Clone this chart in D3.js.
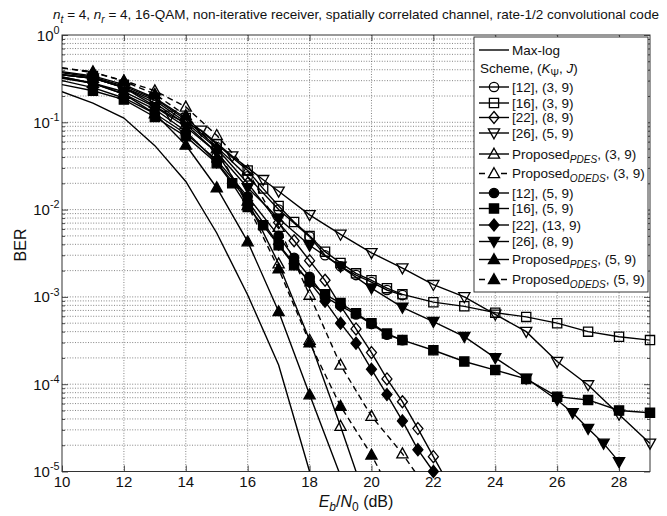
<!DOCTYPE html>
<html><head><meta charset="utf-8">
<script src="https://cdn.jsdelivr.net/npm/d3@7"></script>
<style>
body{margin:0;background:#fff}
text{font-family:"Liberation Sans",Arial,Helvetica,sans-serif;fill:#111}
</style>
</head><body>
<svg id="chart" width="667" height="516"></svg>
<script>
// ---------- data ----------
const xTicks = [10,12,14,16,18,20,22,24,26,28];
const yExponents = [0,-1,-2,-3,-4,-5];

const maxLogX = [10,11,12,13,14,15,16,17,18];
const maxLogY = [2.24e-1,1.66e-1,1.12e-1,5.4e-2,2.1e-2,5.4e-3,1.05e-3,1.66e-4,1.0e-5];

const ref12_39X = [10,11,12,13,14,15,16,17,18,18.5,19,19.5,20,20.5,21];
const ref12_39Y = [3.7e-1,3.3e-1,2.6e-1,1.86e-1,1.07e-1,5.2e-2,2.4e-2,1.0e-2,4.9e-3,3.0e-3,2.24e-3,1.78e-3,1.48e-3,1.2e-3,1.05e-3];

const ref16_39X = [10,11,12,13,14,15,16,16.5,17,17.5,18,18.5,19,19.5,20,20.5,21,22,23,24,25,26,27,28,29];
const ref16_39Y = [3.8e-1,3.4e-1,2.7e-1,1.9e-1,1.12e-1,5.6e-2,2.8e-2,1.74e-2,1.1e-2,7.2e-3,5.0e-3,3.3e-3,2.45e-3,1.86e-3,1.55e-3,1.26e-3,1.07e-3,8.7e-4,7.8e-4,6.6e-4,5.9e-4,5.0e-4,4.0e-4,3.5e-4,3.2e-4];

const ref22_89X = [10,11,12,13,14,15,16,17,17.5,18,18.5,19,19.5,20,20.5,21,21.5,22,22.5];
const ref22_89Y = [3.5e-1,3.2e-1,2.5e-1,1.78e-1,1.0e-1,5.0e-2,2.0e-2,7.1e-3,4.4e-3,2.6e-3,1.55e-3,7.9e-4,4.3e-4,2.3e-4,1.15e-4,6.3e-5,3.1e-5,1.48e-5,7.1e-6];

const ref26_59X = [10,11,12,13.5,14.5,15.5,16.5,17,18,19,20,21,22,23,24,25,26,27,28,29];
const ref26_59Y = [3.5e-1,3.2e-1,2.5e-1,1.2e-1,8.1e-2,4.1e-2,2.2e-2,1.62e-2,8.7e-3,5.2e-3,3.2e-3,2.14e-3,1.38e-3,1.0e-3,6.3e-4,4.0e-4,1.82e-4,9.8e-5,4.5e-5,2.1e-5];

const pdes39X = [10,11,12,13,14,15,16,17,18,19,19.6];
const pdes39Y = [3.5e-1,3.2e-1,2.5e-1,1.66e-1,9.5e-2,4.5e-2,1.26e-2,2.4e-3,3.2e-4,3.3e-5,7.9e-6];

const odeds39X = [10,11,12,13,14,15,16,17,18,19,20,21,21.5];
const odeds39Y = [4.2e-1,3.7e-1,3.0e-1,2.3e-1,1.5e-1,7.1e-2,2.8e-2,6.3e-3,1.05e-3,1.66e-4,4.3e-5,1.6e-5,8.9e-6];

const ref12_59X = [10,11,12,13,14,15,16,17,17.5,18,18.5,19,19.5,20,20.5,21];
const ref12_59Y = [3.0e-1,2.5e-1,1.9e-1,1.26e-1,7.4e-2,3.7e-2,1.41e-2,5.0e-3,2.8e-3,1.7e-3,1.0e-3,7.9e-4,6.3e-4,4.9e-4,3.7e-4,3.2e-4];

const ref16_59X = [10,11,12,13,14,15,15.5,16,16.5,17,17.5,18,18.5,19,19.5,20,20.5,21,22,23,24,25,26,27,28,29];
const ref16_59Y = [2.7e-1,2.3e-1,1.82e-1,1.15e-1,6.9e-2,3.4e-2,2.0e-2,1.07e-2,6.6e-3,3.9e-3,2.3e-3,1.5e-3,1.07e-3,8.5e-4,6.5e-4,5.0e-4,3.8e-4,3.2e-4,2.45e-4,1.82e-4,1.45e-4,1.15e-4,7.2e-5,6.6e-5,5.0e-5,4.7e-5];

const ref22_139X = [10,11,12,13,14,15,16,17,17.5,18,18.5,19,19.5,20,20.5,21,21.5,22];
const ref22_139Y = [3.2e-1,2.8e-1,2.1e-1,1.41e-1,7.9e-2,3.5e-2,1.26e-2,4.0e-3,2.4e-3,1.48e-3,8.9e-4,5.0e-4,2.95e-4,1.48e-4,7.6e-5,3.8e-5,1.78e-5,1.0e-5];

const ref26_89X = [10,11,12,13,14,15,16,17,18,19,20,21,22,23,24,25,26,26.5,27,27.5,28];
const ref26_89Y = [3.3e-1,2.8e-1,2.24e-1,1.5e-1,8.9e-2,4.5e-2,1.78e-2,7.9e-3,3.9e-3,2.24e-3,1.26e-3,7.6e-4,5.2e-4,3.5e-4,2.0e-4,1.17e-4,6.6e-5,4.7e-5,3.1e-5,2.1e-5,1.29e-5];

const pdes59X = [10,11,12,13,14,15,16,17,18,19];
const pdes59Y = [3.3e-1,2.8e-1,2.1e-1,1.26e-1,5.5e-2,1.78e-2,4.3e-3,6.8e-4,7.6e-5,8.9e-6];

const odeds59X = [10,11,12,13,14,15,16,17,18,19,20,20.5];
const odeds59Y = [4.2e-1,3.8e-1,2.95e-1,2.1e-1,1.2e-1,5.0e-2,1.12e-2,2.1e-3,3.0e-4,5.6e-5,1.55e-5,7.1e-6];

// ---------- series table ----------
const series = [
  {xs:maxLogX, ys:maxLogY, marker:null, filled:false, dashed:false, label:[{t:"Max-log"}]},
  {xs:ref12_39X, ys:ref12_39Y, marker:"circle", filled:false, dashed:false, label:[{t:"[12], (3, 9)"}]},
  {xs:ref16_39X, ys:ref16_39Y, marker:"square", filled:false, dashed:false, label:[{t:"[16], (3, 9)"}]},
  {xs:ref22_89X, ys:ref22_89Y, marker:"diamond", filled:false, dashed:false, label:[{t:"[22], (8, 9)"}]},
  {xs:ref26_59X, ys:ref26_59Y, marker:"triDown", filled:false, dashed:false, label:[{t:"[26], (5, 9)"}]},
  {xs:pdes39X, ys:pdes39Y, marker:"triUp", filled:false, dashed:false, label:[{t:"Proposed"},{t:"PDES",sub:1,i:1},{t:", (3, 9)"}]},
  {xs:odeds39X, ys:odeds39Y, marker:"triUp", filled:false, dashed:true, label:[{t:"Proposed"},{t:"ODEDS",sub:1,i:1},{t:", (3, 9)"}]},
  {xs:ref12_59X, ys:ref12_59Y, marker:"circle", filled:true, dashed:false, label:[{t:"[12], (5, 9)"}]},
  {xs:ref16_59X, ys:ref16_59Y, marker:"square", filled:true, dashed:false, label:[{t:"[16], (5, 9)"}]},
  {xs:ref22_139X, ys:ref22_139Y, marker:"diamond", filled:true, dashed:false, label:[{t:"[22], (13, 9)"}]},
  {xs:ref26_89X, ys:ref26_89Y, marker:"triDown", filled:true, dashed:false, label:[{t:"[26], (8, 9)"}]},
  {xs:pdes59X, ys:pdes59Y, marker:"triUp", filled:true, dashed:false, label:[{t:"Proposed"},{t:"PDES",sub:1,i:1},{t:", (5, 9)"}]},
  {xs:odeds59X, ys:odeds59Y, marker:"triUp", filled:true, dashed:true, label:[{t:"Proposed"},{t:"ODEDS",sub:1,i:1},{t:", (5, 9)"}]}
];

// ---------- layout ----------
const L=62, R=650, T=35, B=471.5;
const svg = d3.select("#chart");
const x = d3.scaleLinear().domain([10,29]).range([L,R]);
const y = d3.scaleLog().domain([1e-5,1]).range([B,T]);

svg.append("rect").attr("width",667).attr("height",516).attr("fill","#fff");

function rich(sel, parts, size, subShift){
  let cur = 0;
  const ss = subShift == null ? 0.32 : subShift;
  parts.forEach(p=>{
    const t = sel.append("tspan").text(p.t);
    let shift = 0, fs = size;
    if(p.sub){ fs = size*0.75; shift = size*ss; }
    if(p.sup){ fs = size*0.72; shift = -size*0.45; }
    t.attr("font-size", fs);
    if(p.i) t.attr("font-style","italic");
    const dy = shift - cur; cur = shift;
    if(dy) t.attr("dy", dy);
  });
}

// grid
const grid = svg.append("g").attr("stroke","#666").attr("stroke-width",0.8).attr("stroke-dasharray","1,1.6");
xTicks.filter(v=>v>10).forEach(v=>{
  grid.append("line").attr("x1",x(v)).attr("x2",x(v)).attr("y1",T).attr("y2",B);
});
const yGridVals = [];
for(let k=-5;k<0;k++){ for(let m=1;m<10;m++){ const v=m*Math.pow(10,k); if(v>1e-5) yGridVals.push(v);} }
yGridVals.forEach(v=>{
  grid.append("line").attr("x1",L).attr("x2",R).attr("y1",y(v)).attr("y2",y(v));
});

// axes ticks (inside, on all sides)
const majorY = yExponents.map(e=>Math.pow(10,e));
const minorY = yGridVals.filter(v=>!majorY.some(m=>Math.abs(m-v)<1e-12));
const axG = svg.append("g").attr("font-size",0);
axG.append("g").attr("transform",`translate(0,${B})`).call(d3.axisBottom(x).tickValues(xTicks).tickSize(-6).tickFormat(""));
axG.append("g").attr("transform",`translate(0,${T})`).call(d3.axisTop(x).tickValues(xTicks).tickSize(-6).tickFormat(""));
axG.append("g").attr("transform",`translate(${L},0)`).call(d3.axisLeft(y).tickValues(majorY).tickSize(-6).tickFormat(""));
axG.append("g").attr("transform",`translate(${R},0)`).call(d3.axisRight(y).tickValues(majorY).tickSize(-6).tickFormat(""));
axG.append("g").attr("transform",`translate(${L},0)`).call(d3.axisLeft(y).tickValues(minorY).tickSize(-3).tickFormat(""));
axG.append("g").attr("transform",`translate(${R},0)`).call(d3.axisRight(y).tickValues(minorY).tickSize(-3).tickFormat(""));
axG.selectAll(".domain").remove();
axG.selectAll("line").attr("stroke","#222").attr("stroke-width",0.8);
svg.append("rect").attr("x",L).attr("y",T).attr("width",R-L).attr("height",B-T)
   .attr("fill","none").attr("stroke","#333").attr("stroke-width",1);

// tick labels
xTicks.forEach(v=>{
  svg.append("text").attr("x",x(v)).attr("y",B+15.5).attr("text-anchor","middle")
    .attr("font-size",15).text(v);
});
yExponents.forEach(e=>{
  const t = svg.append("text").attr("x",59.5).attr("y",y(Math.pow(10,e))+5.5).attr("text-anchor","end");
  rich(t,[{t:"10"},{t:String(e),sup:1}],15);
});

// clip
svg.append("clipPath").attr("id","clip").append("rect").attr("x",L).attr("y",T).attr("width",R-L).attr("height",B-T);

const markerPath = {
  circle: "M4.7,0A4.7,4.7 0 1,1 -4.7,0A4.7,4.7 0 1,1 4.7,0Z",
  square: "M-4.6,-4.6H4.6V4.6H-4.6Z",
  diamond: "M0,-6L5,0L0,6L-5,0Z",
  triUp: "M0,-5.8L5.6,4.2L-5.6,4.2Z",
  triDown: "M0,5.8L5.6,-4.2L-5.6,-4.2Z"
};

const line = d3.line().x(d=>x(d[0])).y(d=>y(d[1]));
const plotG = svg.append("g");
series.forEach(s=>{
  const pts = s.xs.map((v,i)=>[v,s.ys[i]]);
  plotG.append("path").attr("d",line(pts)).attr("clip-path","url(#clip)")
    .attr("fill","none").attr("stroke","#000").attr("stroke-width",1.4)
    .attr("stroke-dasharray", s.dashed ? "6,4" : null);
  if(s.marker){
    plotG.selectAll(null).data(pts.filter(d=>d[0]>10 && d[1]>=0.95e-5)).enter()
      .append("path").attr("d",markerPath[s.marker])
      .attr("transform",d=>`translate(${x(d[0])},${y(d[1])})`)
      .attr("fill", s.filled ? "#000" : "none")
      .attr("stroke","#000").attr("stroke-width",1.3);
  }
});

// legend
const lg = svg.append("g");
lg.append("rect").attr("x",474).attr("y",37).attr("width",174).attr("height",255)
  .attr("fill","#fff").attr("stroke","#222").attr("stroke-width",0.9);
const rowY = [50,87,103,117.5,133,154,173.5,193,208.5,225,241.5,259.5,279.5];
series.forEach((s,i)=>{
  const yy = rowY[i];
  lg.append("line").attr("x1",479).attr("x2",509).attr("y1",yy).attr("y2",yy)
    .attr("stroke","#000").attr("stroke-width",1.4).attr("stroke-dasharray", s.dashed ? "6,5" : null);
  if(s.marker){
    lg.append("path").attr("d",markerPath[s.marker]).attr("transform",`translate(494,${yy})`)
      .attr("fill", s.filled ? "#000" : (s.dashed ? "#fff" : "none")).attr("stroke","#000").attr("stroke-width",1.3);
  }
  const t = lg.append("text").attr("x",512).attr("y",yy+4.5);
  rich(t, s.label, 13.5);
});
const sch = lg.append("text").attr("x",480).attr("y",72.5);
rich(sch,[{t:"Scheme, ("},{t:"K",i:1},{t:"Ψ",sub:1},{t:", "},{t:"J",i:1},{t:")"}],13.5);

// title
const title = svg.append("text").attr("x",356).attr("y",19).attr("text-anchor","middle");
rich(title,[{t:"n",i:1},{t:"t",sub:1,i:1},{t:" = 4, "},{t:"n",i:1},{t:"r",sub:1,i:1},
  {t:" = 4, 16-QAM, non-iterative receiver, spatially correlated channel, rate-1/2 convolutional code"}],13.5);

// axis labels
const xl = svg.append("text").attr("x",356).attr("y",507).attr("text-anchor","middle");
rich(xl,[{t:"E",i:1},{t:"b",sub:1,i:1},{t:"/"},{t:"N",i:1},{t:"0",sub:1},{t:" (dB)"}],16,0.22);
svg.append("text").attr("transform","translate(26,245) rotate(-90)").attr("text-anchor","middle")
  .attr("font-size",16).text("BER");
</script>
</body></html>
